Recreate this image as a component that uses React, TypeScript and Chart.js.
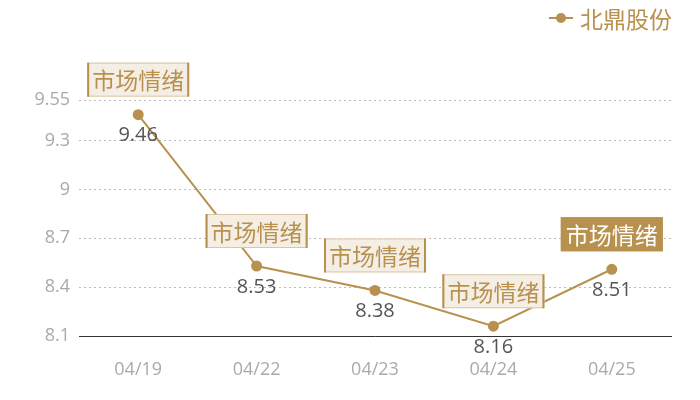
import React, { useEffect, useRef } from 'react';
import { Chart, registerables } from 'chart.js';

Chart.register(...registerables);

const dates = ['04/19', '04/22', '04/23', '04/24', '04/25'];
const prices = [9.46, 8.53, 8.38, 8.16, 8.51];
const yTicks = [8.1, 8.4, 8.7, 9, 9.3, 9.55];
const seriesName = '北鼎股份';
const tagText = '市场情绪';

const GOLD = '#b8914f';
const CJK = '"Noto Sans CJK SC", "Noto Sans", sans-serif';
const NUM = '"Open Sans", "Noto Sans", sans-serif';

const labelPlugin = {
  id: 'labels',
  afterDatasetsDraw(chart) {
    const ctx = chart.ctx;
    const meta = chart.getDatasetMeta(0);
    ctx.save();
    meta.data.forEach((pt, i) => {
      const x = pt.x;
      const y = pt.y;
      // value below the point
      ctx.font = '20px ' + NUM;
      ctx.fillStyle = '#555555';
      ctx.textAlign = 'center';
      ctx.textBaseline = 'middle';
      ctx.fillText(String(prices[i]), x, y + 21);

      // tag box above the point
      const last = i === meta.data.length - 1;
      ctx.font = '23px ' + CJK;
      const w = ctx.measureText(tagText).width + 10;
      const h = 34;
      const bx = x - w / 2;
      const by = y - 35 - h / 2;
      ctx.fillStyle = last ? GOLD : '#f4eee5';
      ctx.fillRect(bx, by, w, h);
      ctx.strokeStyle = last ? GOLD : '#d9c7a6';
      ctx.lineWidth = 1;
      ctx.strokeRect(bx + 0.5, by + 0.5, w - 1, h - 1);
      if (!last) {
        ctx.fillStyle = GOLD;
        ctx.fillRect(bx, by, 2, h);
        ctx.fillRect(bx + w - 2, by, 2, h);
      }
      ctx.fillStyle = last ? '#ffffff' : GOLD;
      ctx.fillText(tagText, x, by + h / 2 + 1);
    });

    // legend
    ctx.strokeStyle = GOLD;
    ctx.lineWidth = 2;
    ctx.beginPath();
    ctx.moveTo(549, 18);
    ctx.lineTo(573, 18);
    ctx.stroke();
    ctx.fillStyle = GOLD;
    ctx.beginPath();
    ctx.arc(561, 18, 5, 0, Math.PI * 2);
    ctx.fill();
    ctx.font = '23px ' + CJK;
    ctx.textAlign = 'left';
    ctx.textBaseline = 'middle';
    ctx.fillText(chart.data.datasets[0].label, 580, 19);
    ctx.restore();
  },
};

const App = () => {
  const canvasRef = useRef(null);

  useEffect(() => {
    const ctx = canvasRef.current.getContext('2d');
    const chart = new Chart(ctx, {
      type: 'line',
      data: {
        labels: dates,
        datasets: [
          {
            label: seriesName,
            data: prices,
            borderColor: GOLD,
            backgroundColor: GOLD,
            borderWidth: 2,
            pointRadius: 4.5,
            pointHoverRadius: 4.5,
            tension: 0,
            fill: false,
          },
        ],
      },
      options: {
        animation: false,
        responsive: false,
        maintainAspectRatio: false,
        layout: { padding: { top: 100, right: 29, bottom: 0, left: 0 } },
        plugins: {
          legend: { display: false },
          tooltip: { enabled: false },
        },
        scales: {
          x: {
            offset: true,
            grid: { display: false, drawTicks: false },
            border: { display: true, color: '#333333', width: 1 },
            ticks: {
              color: '#aaaaaa',
              font: { size: 18, family: NUM },
              padding: 23,
              maxRotation: 0,
            },
            afterFit: (scale) => {
              scale.height = 64;
            },
          },
          y: {
            min: 8.1,
            max: 9.55,
            afterBuildTicks: (scale) => {
              scale.ticks = yTicks.map((v) => ({ value: v }));
            },
            grid: {
              color: '#bbbbbb',
              drawTicks: false,
            },
            border: { display: false, dash: [2, 3] },
            ticks: {
              color: '#aaaaaa',
              font: { size: 18, family: NUM },
              padding: 9,
              callback: (v) => String(v),
            },
            afterFit: (scale) => {
              scale.width = 79;
            },
          },
        },
      },
      plugins: [labelPlugin],
    });
    return () => chart.destroy();
  }, []);

  return (
    <div style={{ position: 'absolute', left: 0, top: 0, width: 700, height: 400, background: '#fff' }}>
      <canvas ref={canvasRef} width="700" height="400" />
    </div>
  );
};

export default App;
